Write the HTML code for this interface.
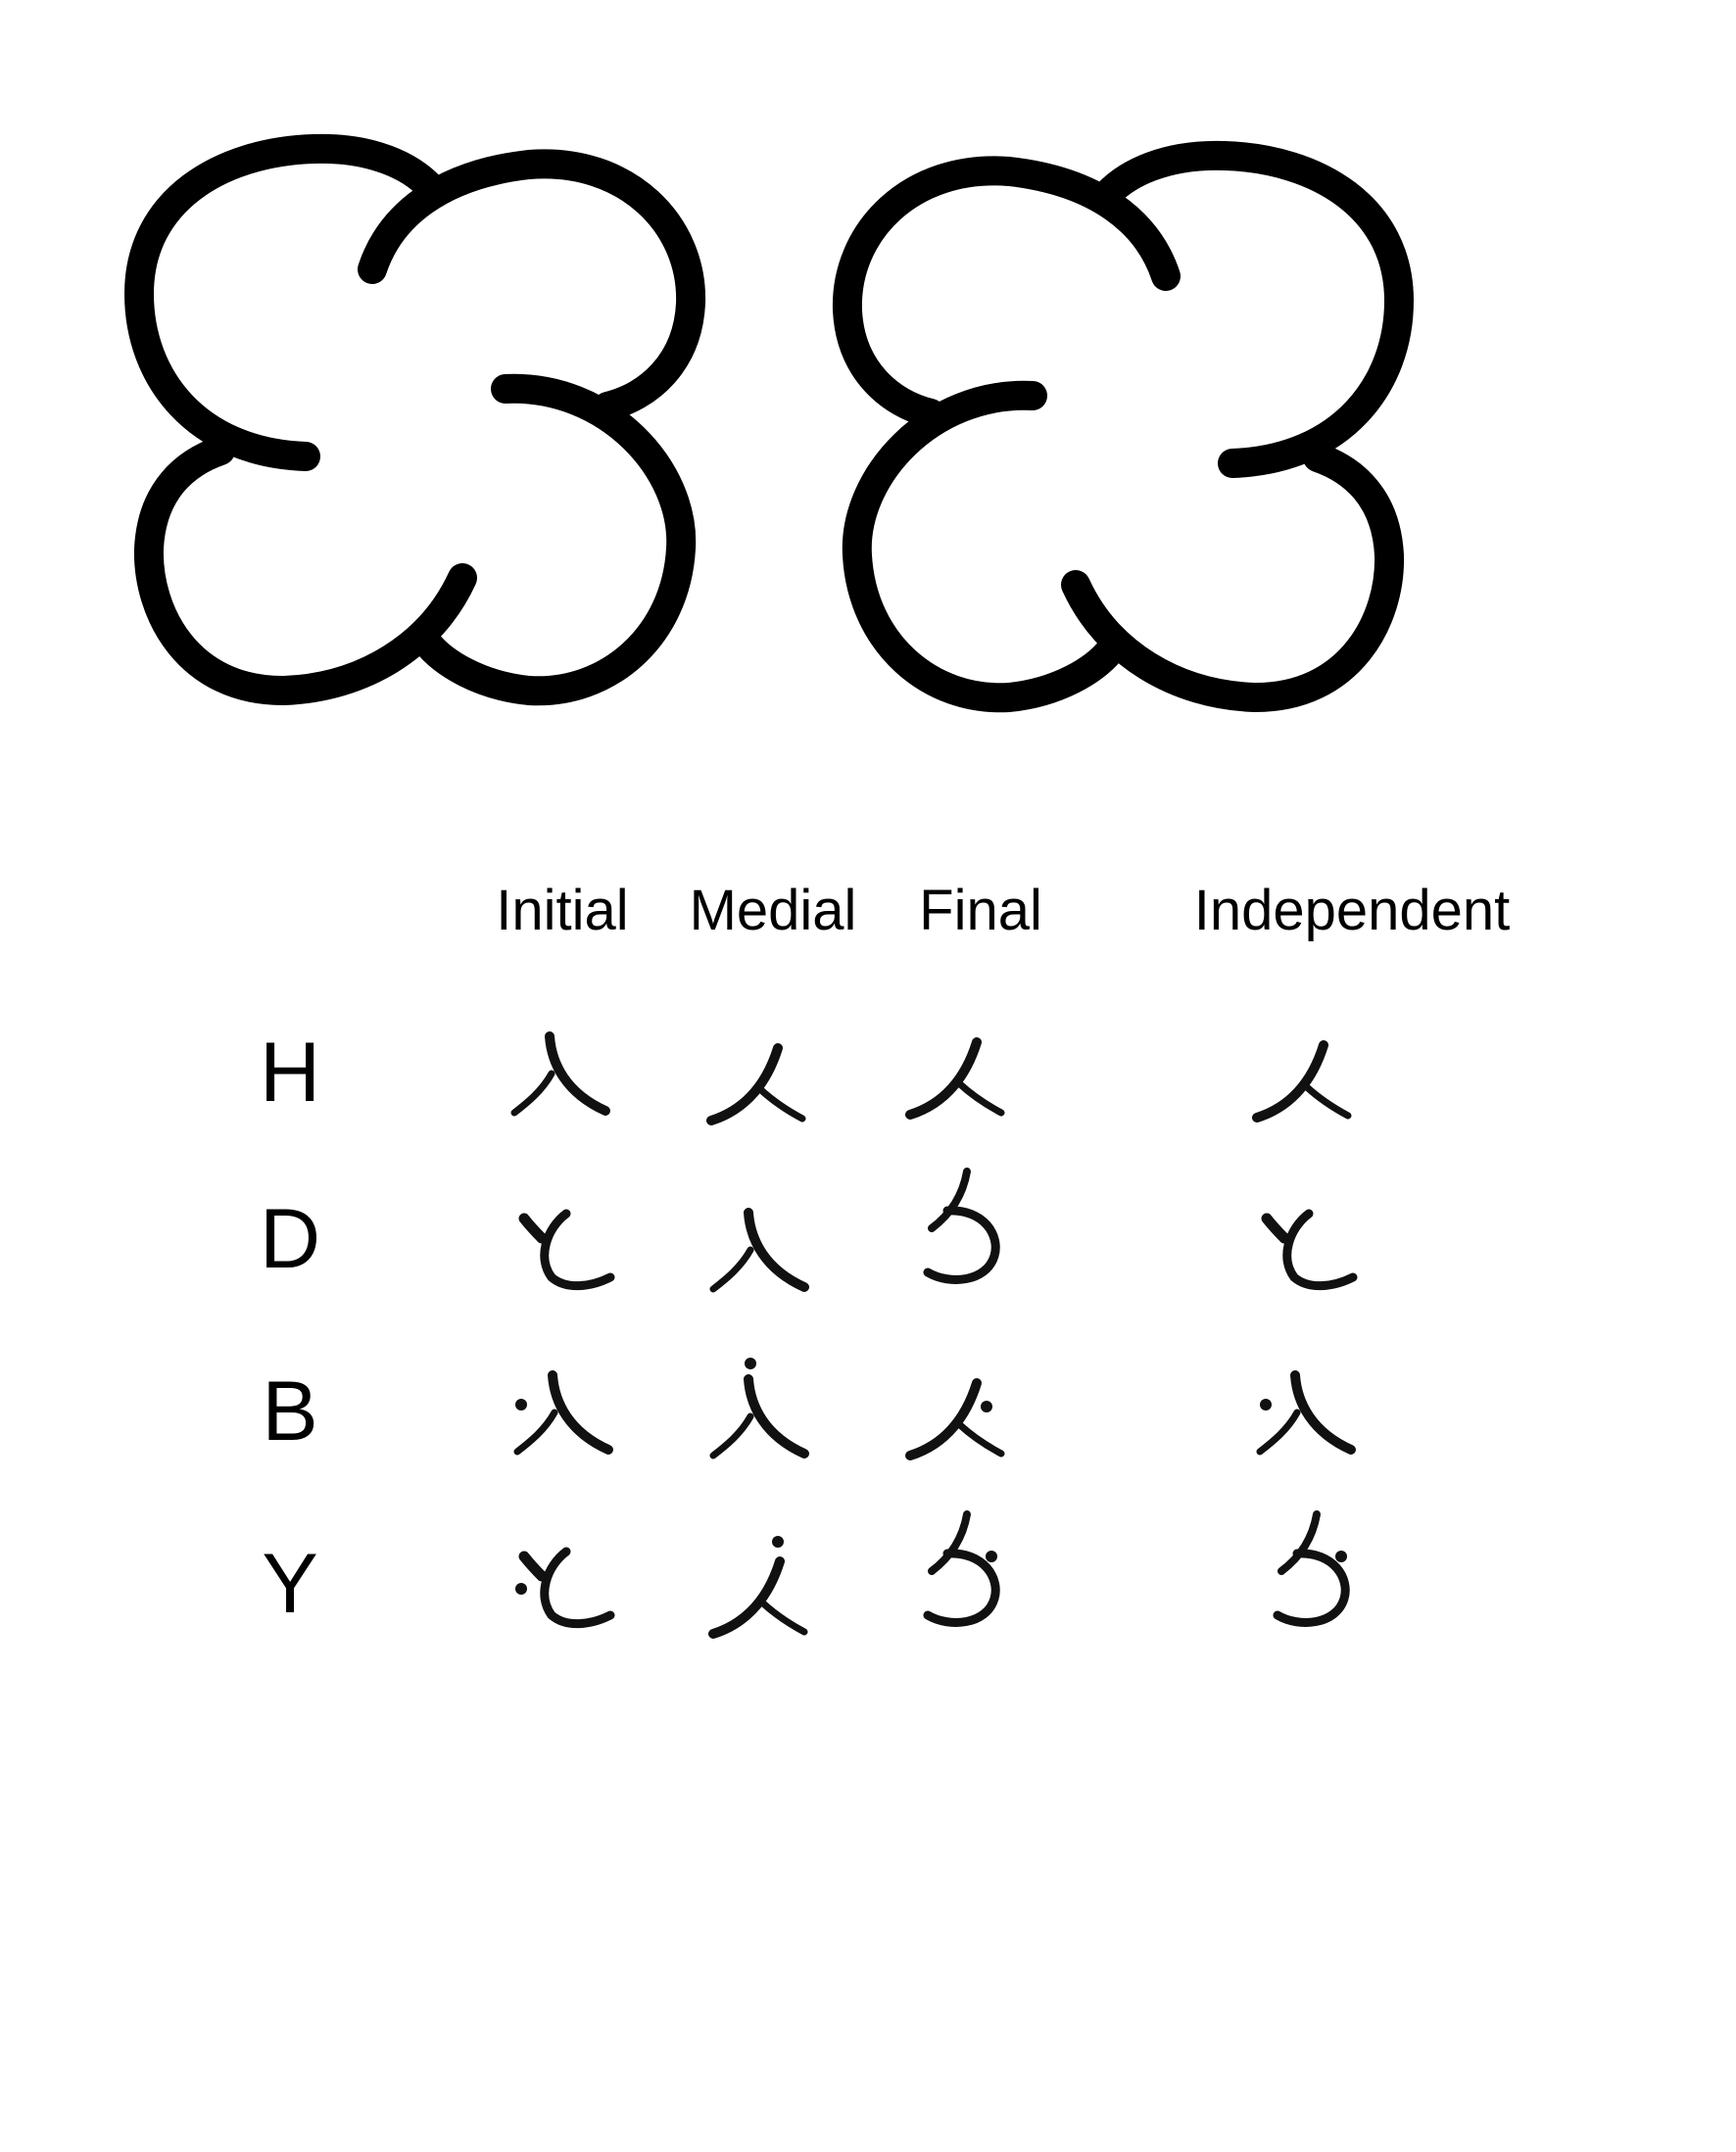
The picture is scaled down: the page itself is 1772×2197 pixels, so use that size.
<!DOCTYPE html>
<html><head><meta charset="utf-8"><style>
html,body{margin:0;padding:0;background:#fff;}
svg{display:block;}
text{font-family:"Liberation Sans",sans-serif;fill:#000;}
</style></head><body>
<svg width="1772" height="2197" viewBox="0 0 1772 2197">
<defs>
  <g id="flower" fill="none" stroke="#000" stroke-width="30" stroke-linecap="round">
    <path d="M312,466 C200,462 142,385 142,300 C142,205 225,155 320,152 C380,150 420,170 440,192"/>
    <path d="M380,275 C398,220 450,178 540,168 C640,160 708,230 705,310 C702,370 662,405 620,415"/>
    <path d="M516,397 C620,392 700,480 695,560 C690,650 620,710 540,705 C490,700 452,677 435,655"/>
    <path d="M472,590 C440,660 370,702 290,705 C192,706 150,625 152,560 C155,500 190,472 225,460"/>
  </g>
  <g id="g-ren" fill="none" stroke="#111" stroke-linecap="round">
    <path d="M38,2 C40,30 55,60 95,78" stroke-width="10"/>
    <path d="M40,40 C30,58 15,70 2,80" stroke-width="7"/>
  </g>
  <g id="g-lean" fill="none" stroke="#111" stroke-linecap="round">
    <path d="M70,8 C60,40 40,70 2,82" stroke-width="10"/>
    <path d="M52,50 C65,62 80,72 95,80" stroke-width="7"/>
  </g>
  <g id="g-hook" fill="none" stroke="#111" stroke-linecap="round">
    <path d="M12,15 C20,25 25,30 30,35" stroke-width="11"/>
    <path d="M55,10 C35,25 25,55 40,75 C55,88 80,85 100,75" stroke-width="9"/>
  </g>
  <g id="g-z" fill="none" stroke="#111" stroke-linecap="round">
    <path d="M68,2 C64,25 52,45 32,60" stroke-width="8"/>
    <path d="M48,42 C86,40 102,68 96,88 C88,115 50,118 28,105" stroke-width="9"/>
  </g>
</defs>

<use href="#flower"/>
<use href="#flower" transform="translate(1570,7) scale(-1,1)"/>

<g font-size="58" text-anchor="middle">
  <text x="574" y="949">Initial</text>
  <text x="789" y="949">Medial</text>
  <text x="1001" y="949">Final</text>
  <text x="1380" y="949">Independent</text>
</g>

<g font-size="86" text-anchor="middle">
  <text x="296" y="1124">H</text>
  <text x="296" y="1294">D</text>
  <text x="296" y="1470">B</text>
  <text x="296" y="1646">Y</text>
</g>

<g transform="translate(4,14)">
<!-- Row H -->
<use href="#g-ren" x="519" y="1042"/>
<use href="#g-lean" x="720" y="1048"/>
<use href="#g-lean" x="923" y="1042"/>
<use href="#g-lean" x="1277" y="1045"/>
<!-- Row D -->
<use href="#g-hook" x="519" y="1215"/>
<use href="#g-ren" x="722" y="1222"/>
<use href="#g-z" x="915" y="1180"/>
<use href="#g-hook" x="1277" y="1215"/>
<!-- Row B -->
<g>
  <use href="#g-ren" x="522" y="1388"/><circle cx="528" cy="1420" r="6" fill="#111"/></g>
<g>
  <use href="#g-ren" x="722" y="1392"/><circle cx="762" cy="1378" r="6" fill="#111"/></g>
<g>
  <use href="#g-lean" x="923" y="1390"/><circle cx="1003" cy="1422" r="6" fill="#111"/></g>
<g>
  <use href="#g-ren" x="1280" y="1388"/><circle cx="1288" cy="1420" r="6" fill="#111"/></g>
<!-- Row Y -->
<g>
  <use href="#g-hook" x="519" y="1560"/><circle cx="528" cy="1608" r="6" fill="#111"/></g>
<g>
  <use href="#g-lean" x="722" y="1572"/><circle cx="790" cy="1560" r="6" fill="#111"/></g>
<g>
  <use href="#g-z" x="915" y="1530"/><circle cx="1008" cy="1575" r="6" fill="#111"/></g>
<g>
  <use href="#g-z" x="1272" y="1530"/><circle cx="1365" cy="1575" r="6" fill="#111"/></g>
</g>
</svg>
</body></html>
